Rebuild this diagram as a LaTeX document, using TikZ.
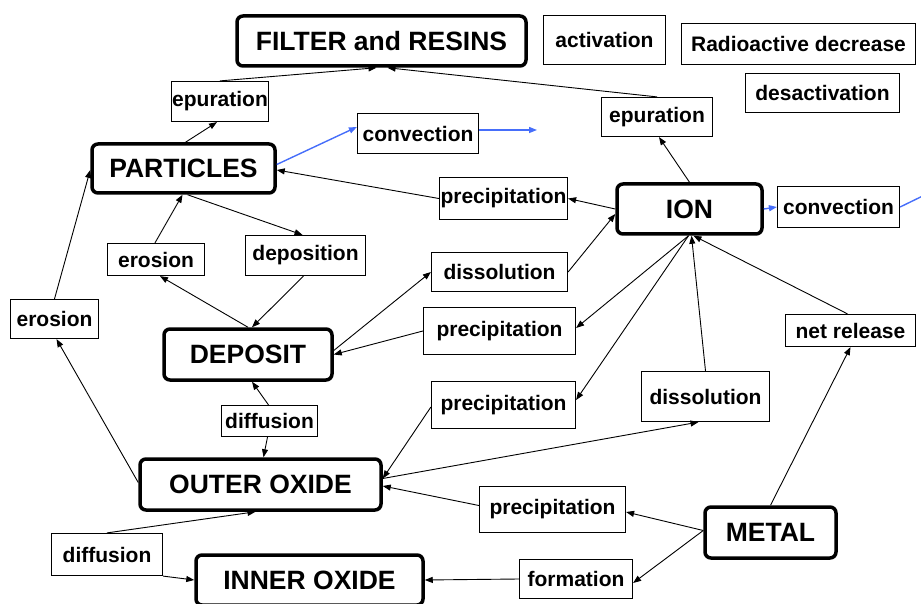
\documentclass[tikz,border=0pt]{standalone}
\usepackage{fontspec}
\setmainfont{Liberation Sans}
\usetikzlibrary{arrows.meta}
\definecolor{convblue}{RGB}{70,110,250}
\begin{document}
\begin{tikzpicture}[x=1pt,y=-1pt,
  main/.style={draw, line width=3.5pt, rounded corners=6pt, inner sep=0pt,
    font=\fontsize{26.5}{30}\selectfont\bfseries},
  lab/.style={draw, line width=1.2pt, inner sep=0pt,
    font=\fontsize{21}{25}\selectfont\bfseries},
  arr/.style={-{Triangle[length=8pt,width=6pt]}, line width=0.9pt},
  flow/.style={arr, draw=convblue, fill=convblue, line width=1.4pt}]
\useasboundingbox (0,0) rectangle (921,604);

% compartments
\node[main, minimum width=289pt, minimum height=50pt] (filter)    at (381.5,41)  {FILTER and RESINS};
\node[main, minimum width=183pt, minimum height=49pt] (particles) at (183.5,168.5) {PARTICLES};
\node[main, minimum width=145pt, minimum height=50pt] (ion)       at (689.5,209) {ION};
\node[main, minimum width=168pt, minimum height=51pt] (deposit)   at (248,354.5) {DEPOSIT};
\node[main, minimum width=241pt, minimum height=51pt] (outer)     at (260.5,484.5) {OUTER OXIDE};
\node[main, minimum width=227pt, minimum height=50pt] (inner)     at (309.5,580) {INNER OXIDE};
\node[main, minimum width=131pt, minimum height=51pt] (metal)     at (770.5,532.5) {METAL};

% processes
\node[lab, minimum width=97pt,  minimum height=40pt] (epur1)  at (220,101.5)   {epuration};
\node[lab, minimum width=121pt, minimum height=40pt] (conv1)  at (418,133.5)   {convection};
\node[lab, minimum width=97pt,  minimum height=32pt] (ero2)   at (156,259.5)   {erosion};
\node[lab, minimum width=120pt, minimum height=40pt] (depo)   at (305.5,255.5) {deposition};
\node[lab, minimum width=88pt,  minimum height=39pt] (ero1)   at (54.5,319)    {erosion};
\node[lab, minimum width=122pt, minimum height=49pt] (act)    at (604.5,40)    {activation};
\node[lab, minimum width=234pt, minimum height=41pt] (radio)  at (798.5,44)    {Radioactive decrease};
\node[lab, minimum width=154pt, minimum height=39pt] (desact) at (822.5,93)    {desactivation};
\node[lab, minimum width=111pt, minimum height=39pt] (epur2)  at (657,117)     {epuration};
\node[lab, minimum width=122pt, minimum height=41pt] (conv2)  at (838.5,207)   {convection};
\node[lab, minimum width=128pt, minimum height=42pt] (prec1)  at (503.5,198.5) {precipitation};
\node[lab, minimum width=136pt, minimum height=39pt] (diss1)  at (499.5,272)   {dissolution};
\node[lab, minimum width=152pt, minimum height=47pt] (prec2)  at (499.5,331)   {precipitation};
\node[lab, minimum width=144pt, minimum height=47pt] (prec3)  at (503.5,405)   {precipitation};
\node[lab, minimum width=128pt, minimum height=50pt] (diss2)  at (705.5,396.5) {dissolution};
\node[lab, minimum width=130pt, minimum height=32pt] (net)    at (850.5,330.5) {net release};
\node[lab, minimum width=146pt, minimum height=46pt] (prec4)  at (552.5,509.5) {precipitation};
\node[lab, minimum width=113pt, minimum height=39pt] (form)   at (576,579)     {formation};
\node[lab, minimum width=96pt,  minimum height=31pt] (diff1)  at (269.5,421)   {diffusion};
\node[lab, minimum width=111pt, minimum height=42pt] (diff2)  at (107,554.5)   {diffusion};

% free ends of the convection flows
\coordinate (conv1out) at (537,130);
\coordinate (conv2out) at (935,190);

% transfers
\draw[arr] ([xshift=2pt]particles.north) -- ([xshift=-3pt]epur1.south);
\draw[arr] (epur1.north) -- ([xshift=-5pt]filter.south);
\draw[arr] (epur2.north) -- ([xshift=6pt]filter.south);
\draw[arr] (ion.north) -- ([xshift=2pt]epur2.south);

\draw[flow] ([yshift=4pt]particles.east) -- ([yshift=6.5pt]conv1.west);
\draw[flow] ([yshift=3.5pt]conv1.east) -- (conv1out);
\draw[flow] (ion.east) -- (conv2.west);
\draw[flow] (conv2.east) -- (conv2out);

\draw[arr] (ion.west) -- (prec1.east);
\draw[arr] (prec1.west) -- ([yshift=-1.5pt]particles.east);
\draw[arr] (diss1.east) -- ([yshift=-5pt]ion.west);
\draw[arr] ([yshift=4pt]deposit.east) -- (diss1.west);
\draw[arr] ([xshift=-1pt]ion.south) -- ([yshift=3pt]prec2.east);
\draw[arr] (prec2.west) -- (deposit.east);
\draw[arr] ([xshift=-1pt]ion.south) -- ([yshift=5pt]prec3.east);
\draw[arr] ([yshift=-2pt]prec3.west) -- ([yshift=6pt]outer.east);
\draw[arr] (diss2.north) -- ([xshift=2pt]ion.south);
\draw[arr] ([yshift=6pt]outer.east) -- ([xshift=-7pt]diss2.south);

\draw[arr] ([yshift=2pt]metal.west) -- ([yshift=-2.5pt]prec4.east);
\draw[arr] ([yshift=4pt]prec4.west) -- ([yshift=-1.5pt]outer.east);
\draw[arr] ([yshift=2pt]metal.west) -- ([yshift=-4pt]form.east);
\draw[arr] (form.west) -- (inner.east);
\draw[arr] (metal.north) -- (net.south);
\draw[arr] ([xshift=-3pt]net.north) -- ([xshift=4pt]ion.south);

\draw[arr] (ero1.north) -- ([yshift=-1.5pt]particles.west);
\draw[arr] ([yshift=2pt]outer.west) -- ([xshift=2pt]ero1.south);
\draw[arr] (deposit.north) -- ([xshift=4pt]ero2.south);
\draw[arr] ([xshift=-1pt]ero2.north) -- ([xshift=-1pt]particles.south);
\draw[arr] ([xshift=4pt]particles.south) -- ([xshift=-3pt]depo.north);
\draw[arr] ([xshift=-2pt]depo.south) -- ([xshift=4pt]deposit.north);
\draw[arr] ([xshift=-1pt]diff1.north) -- ([xshift=4pt]deposit.south);
\draw[arr] ([xshift=-2pt]diff1.south) -- ([xshift=3pt]outer.north);
\draw[arr] (diff2.north) -- ([xshift=-5pt]outer.south);
\draw[arr] (diff2.south east) -- (inner.west);
\end{tikzpicture}
\end{document}
